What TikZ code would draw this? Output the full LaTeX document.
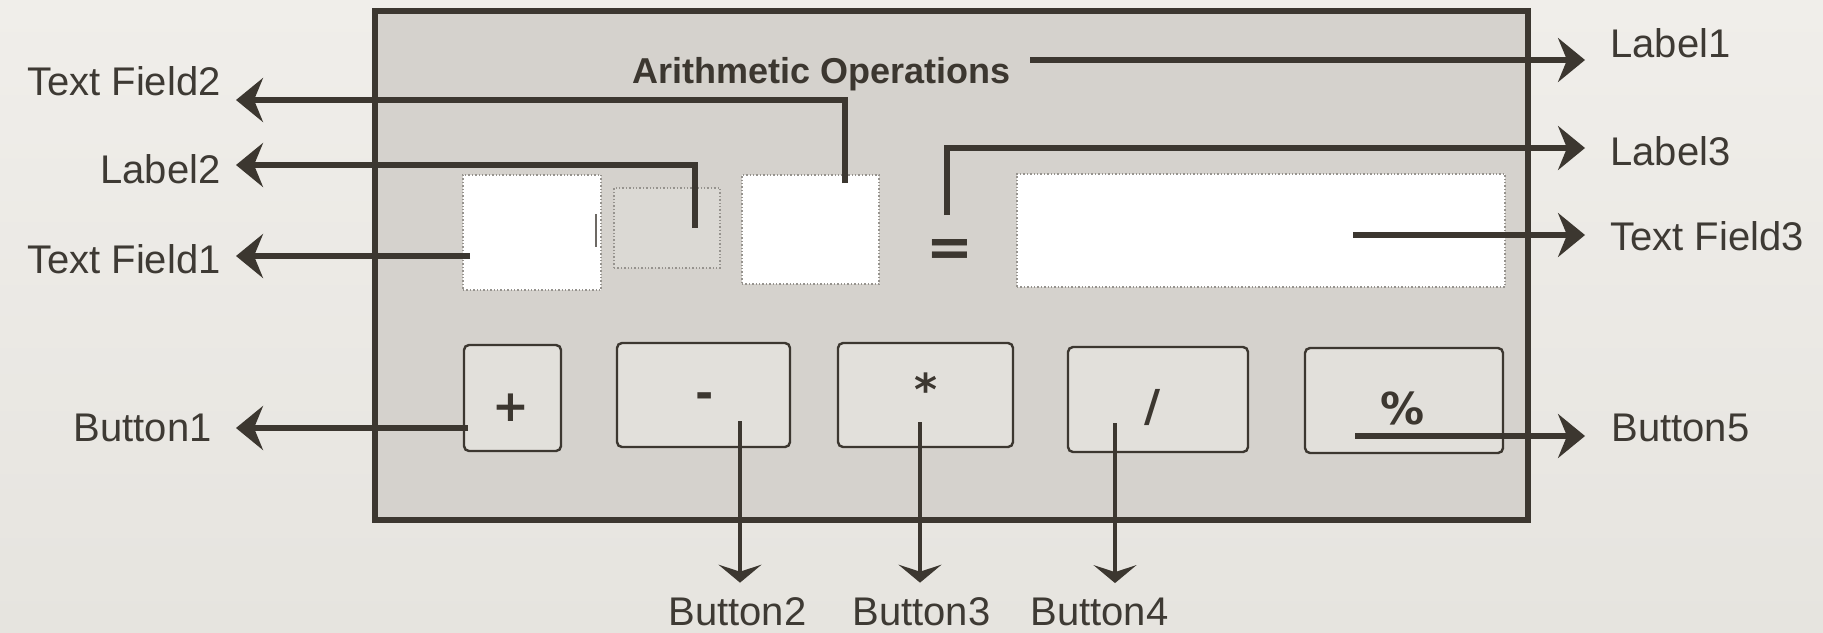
\documentclass[tikz,border=0pt]{standalone}
\usepackage{fontspec}
\setmainfont{Liberation Sans}
\newfontfamily\glyphfont{DejaVu Sans}
\usetikzlibrary{arrows.meta}

\definecolor{paper}{RGB}{240,238,234}
\definecolor{paperlow}{RGB}{230,228,223}
\definecolor{panelgray}{RGB}{213,210,205}
\definecolor{btnfill}{RGB}{226,224,219}
\definecolor{ink}{RGB}{60,55,48}
\definecolor{txt}{RGB}{62,58,52}
\definecolor{fieldedge}{RGB}{150,147,142}

\tikzset{
  panelbox/.style={draw=ink, line width=3pt, fill=panelgray, inner sep=0pt, outer sep=0pt},
  field/.style={draw=fieldedge, densely dotted, line width=0.7pt, fill=white, inner sep=0pt},
  labelbox/.style={draw=fieldedge, densely dotted, line width=0.7pt, fill=panelgray!85!white, inner sep=0pt},
  button/.style={draw=ink, line width=1.2pt, rounded corners=2.5pt, fill=btnfill, inner sep=0pt},
  opglyph/.style={font=\glyphfont\fontsize{22}{26}\selectfont\bfseries, text=ink, inner sep=0pt},
  eqglyph/.style={font=\glyphfont\fontsize{28}{32}\selectfont\bfseries, text=ink, inner sep=0pt},
  caption/.style={font=\fontsize{20}{24}\selectfont, text=txt, inner sep=0pt},
  heading/.style={font=\fontsize{18}{22}\selectfont\bfseries, text=ink, inner sep=0pt},
  pointer/.style={draw=ink, line width=2.6pt, -{Stealth[length=13.5pt,width=22pt,inset=4.5pt]}},
  droppointer/.style={draw=ink, line width=2pt, -{Stealth[length=9pt,width=21.5pt,inset=3.5pt]}},
}

\begin{document}
\begin{tikzpicture}[x=0.5pt, y=-0.5pt]
  % page
  \shade[top color=paper, bottom color=paperlow] (0,0) rectangle (1823,632);
  \useasboundingbox (0,0) rectangle (1823,632);

  % window panel
  \node[panelbox, minimum width=576.5pt, minimum height=254.5pt] (panel) at (951.5,265.5) {};

  % heading
  \node[heading, anchor=base west] (title) at (632,83) {Arithmetic Operations};

  % input row
  \node[field, minimum width=69pt, minimum height=57.5pt] (tf1) at (532,232.5) {};
  \draw[ink!75, line width=1pt] (596,214) -- (596,247);
  \node[labelbox, minimum width=53pt, minimum height=40pt] (lb2) at (667,228) {};
  \node[field, minimum width=68.5pt, minimum height=54.5pt] (tf2) at (810.5,229.5) {};
  \node[eqglyph] (eq) at (949.5,253) {=};
  \node[field, minimum width=244pt, minimum height=56.5pt] (tf3) at (1261,230.5) {};

  % operator buttons
  \node[button, minimum width=48.5pt, minimum height=53pt] (b1) at (512.5,398) {};
  \node[button, minimum width=86.5pt, minimum height=52pt] (b2) at (703.5,395) {};
  \node[button, minimum width=87.5pt, minimum height=52pt] (b3) at (925.5,395) {};
  \node[button, minimum width=90pt, minimum height=52.5pt] (b4) at (1158,399.5) {};
  \node[button, minimum width=99pt, minimum height=52.5pt] (b5) at (1404,400.5) {};
  \node[opglyph] (g1) at (511,408) {+};
  \node[opglyph] (g2) at (705,401) {-};
  \node[opglyph] (g3) at (926,389) {*};
  \node[opglyph] (g4) at (1153,407) {/};
  \node[opglyph] (g5) at (1403,408) {\%};

  % captions, left
  \node[caption, anchor=base east] (lab-tf2) at (221,95) {Text Field2};
  \node[caption, anchor=base east] (lab-lb2) at (221,183) {Label2};
  \node[caption, anchor=base east] (lab-tf1) at (221,273) {Text Field1};
  \node[caption, anchor=base east] (lab-b1) at (212,441) {Button1};
  % captions, right
  \node[caption, anchor=base west] (lab-l1) at (1610,57) {Label1};
  \node[caption, anchor=base west] (lab-l3) at (1610,165) {Label3};
  \node[caption, anchor=base west] (lab-tf3) at (1610,250) {Text Field3};
  \node[caption, anchor=base west] (lab-b5) at (1611,441) {Button5};
  % captions, bottom
  \node[caption, anchor=base west] (lab-b2) at (668,625) {Button2};
  \node[caption, anchor=base west] (lab-b3) at (852,625) {Button3};
  \node[caption, anchor=base west] (lab-b4) at (1030,625) {Button4};

  % connector start points and bends
  \coordinate (pin-title) at (1030,60);
  \coordinate (pin-tf2) at (845,183);
  \coordinate (knee-tf2) at (845,100);
  \coordinate (pin-lb2) at (695,228);
  \coordinate (knee-lb2) at (695,165);
  \coordinate (pin-tf1) at (470,256);
  \coordinate (pin-eq) at (947,215);
  \coordinate (knee-eq) at (947,148);
  \coordinate (pin-tf3) at (1353,235);
  \coordinate (pin-b1) at (468,428);
  \coordinate (pin-b2) at (740,421);
  \coordinate (pin-b3) at (920,422);
  \coordinate (pin-b4) at (1115,423);
  \coordinate (pin-b5) at (1355,436);

  % connectors to the left
  \draw[pointer, shorten >=7.5pt] (pin-tf2) -- (knee-tf2) -- (knee-tf2 -| lab-tf2.east);
  \draw[pointer, shorten >=7.5pt] (pin-lb2) -- (knee-lb2) -- (knee-lb2 -| lab-lb2.east);
  \draw[pointer, shorten >=7.5pt] (pin-tf1) -- (pin-tf1 -| lab-tf1.east);
  \draw[pointer, shorten >=12pt] (pin-b1) -- (pin-b1 -| lab-b1.east);
  % connectors to the right
  \draw[pointer, shorten >=12.5pt] (pin-title) -- (pin-title -| lab-l1.west);
  \draw[pointer, shorten >=12.5pt] (pin-eq) -- (knee-eq) -- (knee-eq -| lab-l3.west);
  \draw[pointer, shorten >=12.5pt] (pin-tf3) -- (pin-tf3 -| lab-tf3.west);
  \draw[pointer, shorten >=13pt] (pin-b5) -- (pin-b5 -| lab-b5.west);
  % connectors downwards
  \draw[droppointer, shorten >=7pt] (pin-b2) -- (pin-b2 |- lab-b2.north);
  \draw[droppointer, shorten >=7pt] (pin-b3) -- (pin-b3 |- lab-b3.north);
  \draw[droppointer, shorten >=7pt] (pin-b4) -- (pin-b4 |- lab-b4.north);
\end{tikzpicture}
\end{document}
